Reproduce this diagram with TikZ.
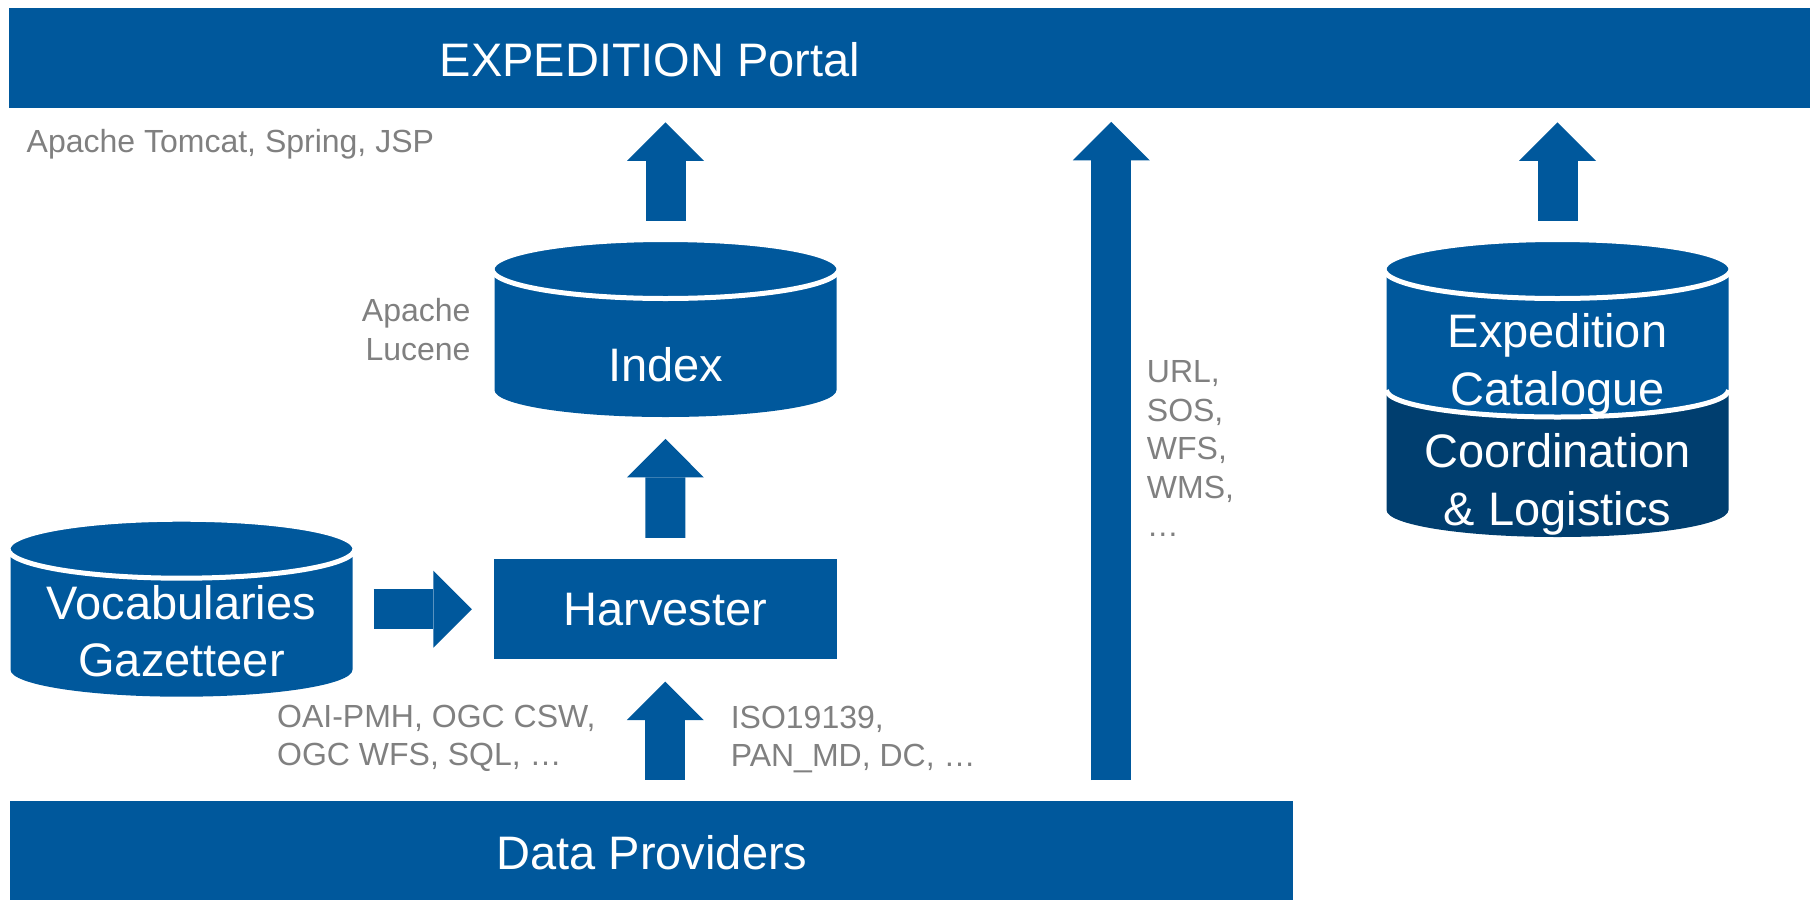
\documentclass[tikz,border=0pt]{standalone}
\usepackage{fontspec}
\setmainfont{Liberation Sans}
\usepackage{tikz}
\usetikzlibrary{calc,arrows.meta}
\definecolor{expblue}{RGB}{0,88,156}
\definecolor{expdark}{RGB}{0,62,111}
\definecolor{labelgray}{RGB}{128,128,128}
\tikzset{
  bar/.style={fill=expblue, inner sep=0pt},
  big/.style={text=white, font=\fontsize{47}{57.7}\selectfont, inner sep=0pt},
  small/.style={text=labelgray, font=\fontsize{32}{38.5}\selectfont, inner sep=0pt},
  drum/.style={inner sep=0pt, minimum width=342pt, minimum height=175pt},
  fat/.style={draw=expblue, line width=40pt,
    -{Triangle[width=77pt,length=38.5pt,line width=0pt]},
    shorten <=21pt, shorten >=22pt},
}
\newcommand{\rows}[2]{\begin{tabular}[b]{@{}#1@{}}#2\end{tabular}}
% body and lid of a drum: x centre, y of the lid, colour of the body
\newcommand{\drawdrum}[3]{%
  \fill[#3] (#1-171,#2) -- (#1-171,#2+121)
    arc[start angle=180,end angle=0,x radius=171,y radius=27] -- (#1+171,#2) -- cycle;
  \filldraw[fill=expblue,draw=white,line width=5pt] (#1,#2) ellipse[x radius=173.5,y radius=29.5];}

\begin{document}
\begin{tikzpicture}[x=1pt,y=-1pt]
  \useasboundingbox (0,0) rectangle (1810,900);

  % bars
  \node[bar, minimum width=1801pt, minimum height=100pt] (portal) at (909.5,57.7) {};
  \node[big, anchor=base] (portaltxt) at (650,76) {EXPEDITION Portal};
  \node[bar, minimum width=1283pt, minimum height=99pt] (data) at (651.5,850.5) {};
  \node[big, anchor=base] (datatxt) at (652,869) {Data Providers};

  % drums
  \fill[expdark] (1386.5,390) -- (1386.5,510)
    arc[start angle=180,end angle=0,x radius=171,y radius=27] -- (1728.5,390) -- cycle;
  \drawdrum{665.5}{269}{expblue}
  \drawdrum{181.5}{548.7}{expblue}
  \drawdrum{1557.5}{269}{expblue}
  \draw[white,line width=5pt] (1386.5,390) arc[start angle=180,end angle=0,x radius=171,y radius=27];

  \node[drum] (idx) at (665.5,329.2) {};
  \node[drum] (voc) at (181.5,609.2) {};
  \node[drum, minimum height=295pt] (cat) at (1557.5,389.2) {};
  \node[big, anchor=base] (idxtxt) at (665.5,381.7) {Index};
  \node[big, anchor=base] (voctxt) at (181.5,676.7) {\rows{c}{Vocabularies\\Gazetteer}};
  \node[big, anchor=base] (cattxt) at (1557.5,405) {\rows{c}{Expedition\\Catalogue}};
  \node[big, anchor=base] (logtxt) at (1557.5,525) {\rows{c}{Coordination\\\& Logistics}};

  \node[bar, big, minimum width=342.5pt, minimum height=100.3pt] (harv) at (665.3,609.2) {Harvester};

  % grey notes
  \node[small, anchor=base west] (web) at (26.5,152.7) {Apache Tomcat, Spring, JSP};
  \node[small, anchor=base east] (lucene) at (470.7,360) {\rows{r}{Apache\\Lucene}};
  \node[small, anchor=base west] (proto) at (277,765.7) {\rows{l}{OAI-PMH, OGC CSW,\\OGC WFS, SQL, …}};
  \node[small, anchor=base west] (fmt) at (730.6,766.7) {\rows{l}{ISO19139,\\PAN\_MD, DC, …}};
  \node[small, anchor=base west] (svcs) at (1146.7,536.6) {\rows{l}{URL,\\SOS,\\WFS,\\WMS,\\…}};

  % arrows
  \coordinate (svc) at (1111.3,801);
  \draw[fat, shorten >=14.5pt] (idx.north) -- (idx.north |- portal.south);
  \draw[fat] (harv.north) -- (idx.south);
  \draw[fat] (data.north -| harv.south) -- (harv.south);
  \draw[fat] (voc.east) -- (harv.west);
  \draw[fat, shorten >=14pt] (svc) -- (svc |- portal.south);
  \draw[fat, shorten >=14.5pt] (cat.north) -- (cat.north |- portal.south);
\end{tikzpicture}
\end{document}
